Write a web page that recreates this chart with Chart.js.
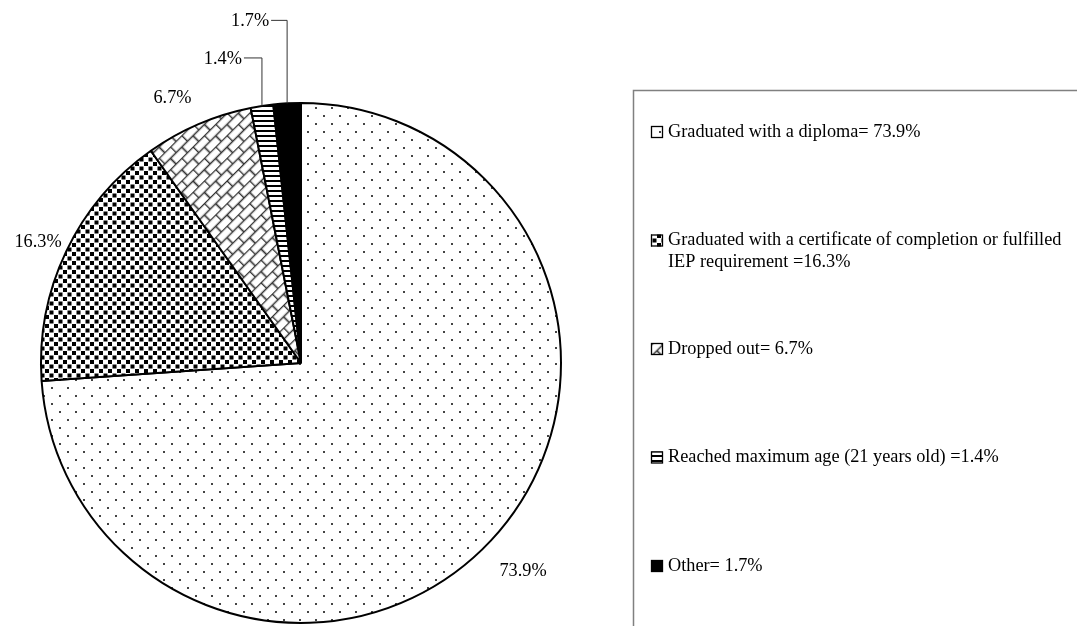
<!DOCTYPE html>
<html>
<head>
<meta charset="utf-8">
<script src="https://cdn.jsdelivr.net/npm/chart.js@4.4.1/dist/chart.umd.min.js"></script>
<style>
  html, body { margin: 0; padding: 0; background: #fff; }
  canvas { display: block; }
</style>
</head>
<body>
<canvas id="exitChart" width="1077" height="626"></canvas>
<script>
// data
const categories = [
  'Graduated with a diploma= 73.9%',
  ['Graduated with a certificate of completion or fulfilled', 'IEP requirement =16.3%'],
  'Dropped out= 6.7%',
  'Reached maximum age (21 years old) =1.4%',
  'Other= 1.7%',
];
const values = [73.9, 16.3, 6.7, 1.4, 1.7];
const valueLabels = values.map((v) => v.toFixed(1) + '%');

// where each slice label sits relative to the middle of its arc
const labelPlace = [
  { dx: 32, dy: 31 },
  { dx: -28, dy: -9 },
  { dx: -26, dy: -26 },
  { leaderUp: 48, leaderLeft: 18 },
  { leaderUp: 83, leaderLeft: 16 },
];

const FONT = '18.3px "Liberation Serif", "Times New Roman", serif';

const canvas = document.getElementById('exitChart');
const ctx = canvas.getContext('2d');

function makePattern(w, h, draw) {
  const tile = document.createElement('canvas');
  tile.width = w;
  tile.height = h;
  const g = tile.getContext('2d');
  g.fillStyle = '#fff';
  g.fillRect(0, 0, w, h);
  draw(g);
  return ctx.createPattern(tile, 'repeat');
}

// sparse dots
const dotFill = makePattern(16, 16, (g) => {
  g.fillStyle = '#444';
  g.fillRect(3, 3, 2, 2);
  g.fillRect(11, 11, 2, 2);
});

// dense dark squares
const checkFill = makePattern(9, 9, (g) => {
  g.fillStyle = '#000';
  g.fillRect(0, 0, 4, 4);
  g.fillRect(4.5, 4.5, 4, 4);
});

// diagonal brick
const brickFill = makePattern(16, 16, (g) => {
  g.strokeStyle = '#333';
  g.lineWidth = 1.7;
  g.beginPath();
  g.moveTo(0, 0.5); g.lineTo(16, 0.5);
  g.moveTo(0, 8.5); g.lineTo(16, 8.5);
  g.moveTo(0.5, 0); g.lineTo(0.5, 8);
  g.moveTo(8.5, 8); g.lineTo(8.5, 16);
  g.stroke();
});
brickFill.setTransform(new DOMMatrix().rotateSelf(-45));

// horizontal lines
const lineFill = makePattern(4, 5, (g) => {
  g.fillStyle = '#000';
  g.fillRect(0, 0, 4, 2);
});

const fills = [dotFill, checkFill, brickFill, lineFill, '#000'];

const sliceLabels = {
  id: 'sliceLabels',
  afterDatasetsDraw(chart) {
    const c = chart.ctx;
    const meta = chart.getDatasetMeta(0);
    c.save();
    c.font = FONT;
    c.fillStyle = '#000';
    c.strokeStyle = '#333';
    c.lineWidth = 1;
    c.textBaseline = 'middle';
    meta.data.forEach((arc, i) => {
      const { x, y, startAngle, endAngle, outerRadius } = arc.getProps(
        ['x', 'y', 'startAngle', 'endAngle', 'outerRadius'], true);
      const mid = (startAngle + endAngle) / 2;
      const ex = x + Math.cos(mid) * outerRadius;
      const ey = y + Math.sin(mid) * outerRadius;
      const p = labelPlace[i];
      if (p.leaderUp) {
        const ly = ey - p.leaderUp;
        c.beginPath();
        c.moveTo(ex, ey);
        c.lineTo(ex, ly);
        c.lineTo(ex - p.leaderLeft, ly);
        c.stroke();
        c.textAlign = 'right';
        c.fillText(valueLabels[i], ex - p.leaderLeft - 2, ly + 1);
      } else {
        c.textAlign = 'center';
        c.fillText(valueLabels[i], ex + p.dx, ey + p.dy);
      }
    });
    c.restore();
  },
};

// boxed legend on the right
const boxLegend = {
  id: 'boxLegend',
  afterDraw(chart) {
    const c = chart.ctx;
    const ds = chart.data.datasets[0];
    c.save();
    c.strokeStyle = '#808080';
    c.lineWidth = 1.5;
    c.strokeRect(633.5, 90.5, 500, 600);

    c.font = FONT;
    c.textBaseline = 'middle';
    c.textAlign = 'left';
    chart.data.labels.forEach((lab, i) => {
      const lines = Array.isArray(lab) ? lab : [lab];
      const y = 132 + i * 108.5;
      c.fillStyle = ds.backgroundColor[i];
      c.fillRect(651, y - 6, 12, 12);
      c.strokeStyle = '#000';
      c.lineWidth = 1.3;
      c.strokeRect(651.5, y - 5.5, 11, 11);
      c.fillStyle = '#000';
      lines.forEach((t, j) => c.fillText(t, 668, y + j * 21.5));
    });
    c.restore();
  },
};

new Chart(ctx, {
  type: 'pie',
  data: {
    labels: categories,
    datasets: [
      {
        data: values,
        backgroundColor: fills,
        borderColor: '#000',
        borderWidth: 2,
        radius: 260,
      },
    ],
  },
  options: {
    responsive: false,
    animation: false,
    events: [],
    layout: {
      padding: { left: 41, top: 102, right: 516, bottom: 2 },
    },
    plugins: {
      legend: { display: false },
      tooltip: { enabled: false },
    },
  },
  plugins: [sliceLabels, boxLegend],
});
</script>
</body>
</html>
